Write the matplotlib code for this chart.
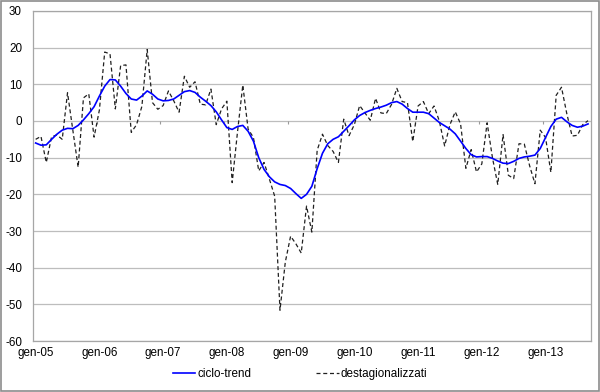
import numpy as np
import matplotlib
matplotlib.use("Agg")
from matplotlib import pyplot as plt
from matplotlib.patches import Rectangle

plt.rcParams['font.family'] = ['Liberation Sans', 'DejaVu Sans']

# monthly series, gen-05 .. set-13
destagionalizzati = [
    -5.0, -4.2, -11.3, -4.3, -3.8, -5.0, 7.7, -2.5, -12.6, 6.3,
    7.4, -4.4, 3.0, 18.8, 18.3, 3.3, 15.1, 15.3, -3.1, -1.0,
    4.0, 19.5, 5.0, 3.2, 4.2, 8.2, 5.5, 2.4, 12.2, 9.2,
    10.7, 4.6, 4.4, 8.7, -1.0, 3.3, 5.4, -16.8, -3.0, 9.8,
    -2.2, -4.5, -13.6, -11.3, -15.8, -20.5, -51.6, -38.5, -31.4, -33.5,
    -36.0, -23.2, -30.3, -8.0, -3.6, -6.7, -8.3, -11.3, 0.5, -4.0,
    -1.0, 4.2, 2.2, 0.2, 6.2, 2.2, 2.0, 4.5, 8.9, 5.3,
    5.0, -5.6, 4.1, 5.3, 2.0, 4.1, 0.0, -6.8, -1.0, 2.5,
    -0.8, -12.9, -7.8, -13.9, -11.7, -0.5, -10.0, -17.3, -3.7, -14.8,
    -15.7, -6.2, -6.3, -12.2, -17.1, -2.5, -4.5, -14.0, 7.0, 9.2,
    2.0, -4.1, -3.9, -1.0, 0.1,
]

ciclo_trend = [
    -6.0, -6.6, -6.5, -5.0, -3.6, -2.5, -2.0, -2.1, -1.2, 0.3,
    2.0, 3.9, 6.8, 9.5, 11.3, 11.2, 9.5, 7.5, 6.0, 5.7,
    6.8, 8.2, 7.3, 6.0, 5.5, 5.6, 6.0, 7.0, 8.0, 8.3,
    7.8, 6.5, 5.4, 4.2, 2.5, 0.3, -1.8, -2.3, -1.5, -1.2,
    -2.8, -5.5, -10.0, -13.2, -15.2, -16.6, -17.3, -17.6, -18.4, -19.8,
    -21.1, -20.0, -17.8, -13.0, -8.8, -6.2, -5.0, -4.3, -2.8, -1.3,
    0.3, 1.5, 2.3, 2.9, 3.4, 3.8, 4.3, 5.0, 5.3, 4.6,
    3.4, 2.4, 2.4, 2.4, 2.0, 0.8, -0.4, -1.3, -2.2, -3.5,
    -5.5, -7.5, -9.2, -9.8, -9.7, -9.7, -10.2, -10.9, -11.5, -11.6,
    -11.0, -10.2, -9.8, -9.6, -9.3, -7.5, -4.5, -1.5, 0.5, 1.0,
    -0.2, -1.2, -1.7, -1.4, -0.8,
]

year_labels = ['gen-05', 'gen-06', 'gen-07', 'gen-08', 'gen-09',
               'gen-10', 'gen-11', 'gen-12', 'gen-13']
y_ticks = [30, 20, 10, 0, -10, -20, -30, -40, -50, -60]

months = np.arange(len(ciclo_trend))
label_pos = months[::12]

fig = plt.figure(figsize=(6.0, 3.92), dpi=100)
ax = fig.add_axes([0.055, 0.130, 0.9295, 0.842])

grid_col = '#bdbdbd'
for v in y_ticks:
    ax.axhline(v, color=grid_col, lw=0.9, zorder=1)
# small category-axis ticks on the zero line
ax.vlines(label_pos - 0.5, -0.9, 0, color='#9a9a9a', lw=0.8, zorder=1)

ax.plot(months, ciclo_trend, color='#0000ff', lw=1.2, label='ciclo-trend', zorder=3)
ax.plot(months, destagionalizzati, color='#202020', lw=0.9,
        linestyle=(0, (3.2, 2.2)), label='destagionalizzati', zorder=2)

ax.set_xlim(-0.5, len(months) - 0.5)
ax.set_ylim(-60, 30)
ax.set_yticks(y_ticks)
ax.set_yticklabels([str(v) for v in y_ticks])
ax.set_xticks(label_pos)
ax.set_xticklabels(year_labels)
ax.tick_params(axis='y', length=0, pad=8, labelsize=8.4)
ax.tick_params(axis='x', length=0, pad=4, labelsize=8.4)
for s in ax.spines.values():
    s.set_color('#a6a6a6')
    s.set_linewidth(0.9)

leg = fig.legend(loc='center', bbox_to_anchor=(0.5, 0.046), ncol=2,
                 frameon=False, fontsize=8.4, handlelength=1.9,
                 handletextpad=0.15, columnspacing=5.6)

fig.patches.append(Rectangle((0.0015, 0.002), 0.996, 0.995, transform=fig.transFigure,
                             fill=False, edgecolor='#8c8c8c', lw=1.2))

fig.savefig('out.png', dpi=100)
